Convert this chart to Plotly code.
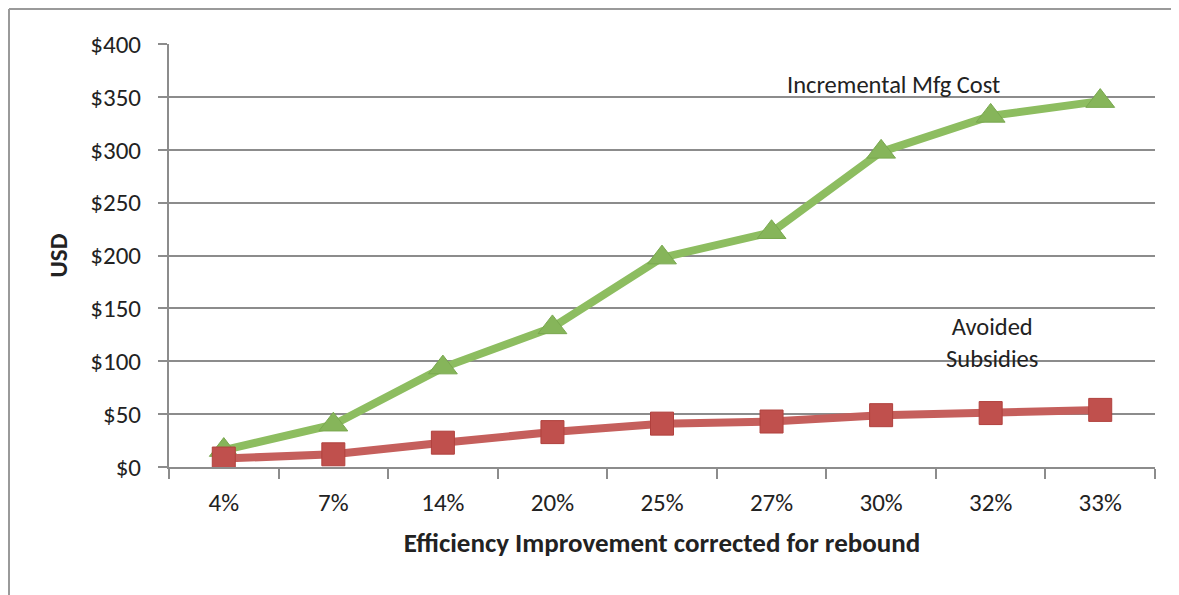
import plotly.graph_objects as go

categories = ["4%", "7%", "14%", "20%", "25%", "27%", "30%", "32%", "33%"]
mfg_cost = [16, 40, 94, 132, 198, 222, 298, 332, 346]
avoided_subsidies = [8, 12, 23, 33, 41, 43, 49, 51, 54]
y_ticks = [0, 50, 100, 150, 200, 250, 300, 350, 400]
y_tick_labels = ["$" + str(v) for v in y_ticks]

font = "Carlito, Liberation Sans Narrow, Open Sans, sans-serif"

# page body has an 8px margin, so the figure is drawn 8px smaller and offset
W, H = 1171, 587
L, R, T, B = 161, 24, 36, 128

fig = go.Figure()
fig.add_trace(go.Scatter(
    x=categories, y=mfg_cost, mode="lines+markers",
    line=dict(color="#8DBD60", width=8),
    marker=dict(symbol="triangle-up", size=25, color="#86B55A",
                line=dict(color="#79A84F", width=1)),
    name="Incremental Mfg Cost"))
fig.add_trace(go.Scatter(
    x=categories, y=avoided_subsidies, mode="lines+markers",
    line=dict(color="#C55F5C", width=8),
    marker=dict(symbol="square", size=23, color="#C0504D",
                line=dict(color="#B0403D", width=1)),
    name="Avoided Subsidies"))

fig.add_annotation(x=6.11, y=361, text="Incremental Mfg Cost", showarrow=False,
                   font=dict(size=24.5, color="#222", family=font))
fig.add_annotation(x=7.01, y=117, text="Avoided<br>Subsidies", showarrow=False,
                   font=dict(size=24.5, color="#222", family=font))

pw = W - L - R
ph = H - T - B
x_left = (1 - L) / pw
x_right = (W - L) / pw
y_top = (H - B - 1) / ph
y_bot = -(B + 5) / ph
fig.add_shape(type="line", xref="paper", yref="paper",
              x0=x_left, x1=x_left, y0=y_bot, y1=y_top,
              line=dict(color="#9a9a9a", width=2), layer="below")
fig.add_shape(type="line", xref="paper", yref="paper",
              x0=x_left, x1=x_right, y0=y_top, y1=y_top,
              line=dict(color="#9a9a9a", width=2), layer="below")

fig.update_layout(
    width=W, height=H,
    margin=dict(l=L, r=R, t=T, b=B),
    paper_bgcolor="white", plot_bgcolor="white",
    showlegend=False,
    font=dict(family=font, size=25, color="#222"),
    xaxis=dict(
        type="category", tickson="boundaries", ticks="outside", ticklen=10,
        tickcolor="#8c8c8c", tickwidth=2,
        showline=True, linecolor="#8c8c8c", linewidth=2,
        showgrid=False, range=[-0.5, 8.5], ticklabelstandoff=12,
        title=dict(text="<b>Efficiency Improvement corrected for rebound</b>",
                   font=dict(size=27), standoff=16),
    ),
    yaxis=dict(
        range=[0, 400], tickvals=y_ticks, ticktext=y_tick_labels,
        ticks="outside", ticklen=9, tickcolor="#8c8c8c", tickwidth=2,
        showline=True, linecolor="#8c8c8c", linewidth=2,
        showgrid=True, gridcolor="#8c8c8c", gridwidth=2, zeroline=False,
        ticklabelstandoff=12,
        title=dict(text="<b>USD</b>", font=dict(size=25), standoff=16),
    ),
)

fig.write_html("out.html")
